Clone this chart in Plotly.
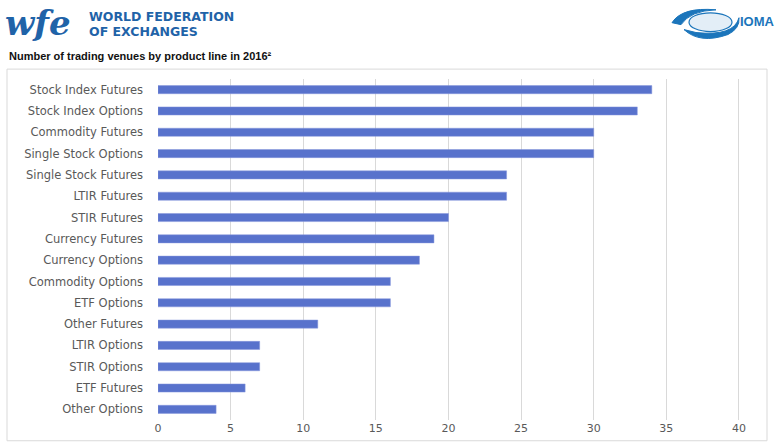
import plotly.graph_objects as go

categories = ["Stock Index Futures", "Stock Index Options", "Commodity Futures",
              "Single Stock Options", "Single Stock Futures", "LTIR Futures",
              "STIR Futures", "Currency Futures", "Currency Options",
              "Commodity Options", "ETF Options", "Other Futures",
              "LTIR Options", "STIR Options", "ETF Futures", "Other Options"]
venues = [34, 33, 30, 30, 24, 24, 20, 19, 18, 16, 16, 11, 7, 7, 6, 4]
x_ticks = [0, 5, 10, 15, 20, 25, 30, 35, 40]

W, H = 776, 447
ml, mr, mt, mb = 158, 35, 79, 23
pw, ph = W - ml - mr, H - mt - mb

def px(x):
    return (x - ml) / pw

def py(y):
    return (H - mb - y) / ph

fig = go.Figure()
fig.add_trace(go.Bar(
    x=venues, y=categories, orientation="h",
    marker=dict(color="#5872CC", line=dict(color="#8797DD", width=0.5)),
    width=0.38, hoverinfo="x+y"
))

fig.update_layout(
    width=W, height=H,
    margin=dict(l=ml, r=mr, t=mt, b=mb),
    paper_bgcolor="white", plot_bgcolor="white",
    showlegend=False,
    font=dict(family="DejaVu Sans, sans-serif", color="#595959", size=10),
    xaxis=dict(range=[0, 40.14], tickvals=x_ticks, showgrid=True,
               gridcolor="#D9D9D9", gridwidth=1, zeroline=False,
               showline=False, ticks="", tickfont=dict(size=11, color="#595959"),
               fixedrange=True),
    yaxis=dict(categoryorder="array", categoryarray=categories[::-1],
               showgrid=False, showline=False, ticks="", ticklen=0,
               ticklabelstandoff=14,
               tickfont=dict(family="DejaVu Sans", size=11.5, color="#595959"),
               fixedrange=True, automargin=False),
    bargap=0.62,
)

shapes = [
    # chart frame
    dict(type="rect", xref="paper", yref="paper",
         x0=px(7), x1=px(767), y0=py(445), y1=py(69),
         line=dict(color="#D9D9D9", width=1), fillcolor="rgba(0,0,0,0)", layer="below"),
    # IOMA swirl (upper arc)
    dict(type="path", xref="paper", yref="paper",
         path=f"M {px(672)},{py(22)} Q {px(682)},{py(6)} {px(716)},{py(9)} "
              f"Q {px(690)},{py(10)} {px(681)},{py(24)} Z",
         fillcolor="#1B75BB", line=dict(color="#1B75BB", width=1)),
    # IOMA swirl (lower arc)
    dict(type="path", xref="paper", yref="paper",
         path=f"M {px(684)},{py(29)} Q {px(700)},{py(44)} {px(728)},{py(34)} "
              f"Q {px(740)},{py(28)} {px(739)},{py(17)} "
              f"Q {px(734)},{py(36)} {px(696)},{py(32)} Z",
         fillcolor="#1B75BB", line=dict(color="#1B75BB", width=1)),
    # globe
    dict(type="circle", xref="paper", yref="paper",
         x0=px(689), x1=px(732), y0=py(31), y1=py(12),
         fillcolor="rgba(27,117,187,0.12)", line=dict(color="#1B75BB", width=1.2)),
]

annotations = [
    dict(text="<i><b>wfe</b></i>", x=px(3), y=py(22), xref="paper", yref="paper",
         xanchor="left", yanchor="middle", showarrow=False,
         font=dict(family="DejaVu Serif", size=34, color="#1F63A8")),
    dict(text="<b>WORLD FEDERATION</b>", x=px(87), y=py(16),
         xref="paper", yref="paper", xanchor="left", yanchor="middle",
         showarrow=False, align="left",
         font=dict(family="DejaVu Sans", size=12.5, color="#1F63A8")),
    dict(text="<b>OF EXCHANGES</b>", x=px(87), y=py(31),
         xref="paper", yref="paper", xanchor="left", yanchor="middle",
         showarrow=False, align="left",
         font=dict(family="DejaVu Sans", size=12.5, color="#1F63A8")),
    dict(text="<b>IOMA</b>", x=px(738), y=py(21), xref="paper", yref="paper",
         xanchor="left", yanchor="middle", showarrow=False,
         font=dict(family="Liberation Sans", size=13, color="#1B75BB")),
    dict(text="<b>Number of trading venues by product line in 2016²</b>",
         x=px(7), y=py(56), xref="paper", yref="paper", xanchor="left",
         yanchor="middle", showarrow=False,
         font=dict(family="Liberation Sans", size=11, color="#111111")),
]

fig.update_layout(shapes=shapes, annotations=annotations)
fig.write_html("out.html", config={"displayModeBar": False},
               post_script="document.body.style.margin='0';document.body.style.padding='0';")
